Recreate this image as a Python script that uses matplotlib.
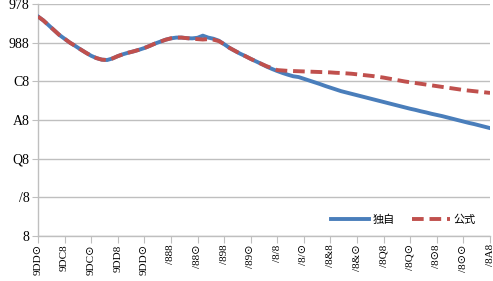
import matplotlib
matplotlib.use("Agg")
import matplotlib.pyplot as plt

# years 1975..2060
years = list(range(1975, 2061))

# own estimate (独自)
own = [113.5, 111.5, 109.0, 106.5, 104.0, 102.0, 100.0, 98.3, 96.5, 94.8,
       93.2, 92.0, 91.2, 91.0, 91.8, 93.0, 94.0, 94.8, 95.5, 96.3,
       97.2, 98.3, 99.5, 100.5, 101.5, 102.2, 102.6, 102.6, 102.3, 102.2,
       102.5, 103.6, 102.6, 102.0, 101.0, 99.2, 97.3, 95.8, 94.3, 93.0,
       91.6, 90.3, 89.0, 87.6, 86.4, 85.3, 84.3, 83.4, 82.6, 82.2,
       81.3, 80.4, 79.5, 78.6, 77.6, 76.7, 75.8, 74.9, 74.2, 73.5,
       72.8, 72.1, 71.4, 70.7, 70.0, 69.3, 68.6, 67.9, 67.2, 66.5,
       65.8, 65.2, 64.5, 63.9, 63.2, 62.6, 62.0, 61.3, 60.6, 59.9,
       59.2, 58.5, 57.9, 57.2, 56.5, 55.8]

# official projection (公式)
official = [113.5, 111.5, 109.0, 106.5, 104.0, 102.0, 100.0, 98.3, 96.5, 94.8,
            93.2, 92.0, 91.2, 91.0, 91.8, 93.0, 94.0, 94.8, 95.5, 96.3,
            97.2, 98.3, 99.5, 100.5, 101.5, 102.2, 102.6, 102.6, 102.3, 102.0,
            101.8, 101.6, 101.8, 101.5, 100.8, 99.2, 97.3, 95.8, 94.3, 93.0,
            91.6, 90.3, 89.0, 87.8, 86.8, 85.8, 85.6, 85.4, 85.3, 85.2,
            85.1, 85.0, 84.9, 84.8, 84.7, 84.6, 84.4, 84.3, 84.1, 83.9,
            83.6, 83.3, 83.0, 82.7, 82.3, 81.9, 81.4, 80.9, 80.4, 79.9,
            79.5, 79.1, 78.7, 78.3, 77.9, 77.5, 77.1, 76.7, 76.3, 75.9,
            75.5, 75.2, 74.9, 74.6, 74.3, 74.0]

x_ticks = list(range(1975, 2061, 5))
x_labels = ["9DD⊙", "9DC8", "9DC⊙", "9DD8", "9DD⊙", "/888", "/88⊙", "/898",
            "/89⊙", "/8/8", "/8/⊙", "/8&8", "/8&⊙", "/8Q8", "/8Q⊙", "/8⊙8",
            "/8⊙⊙", "/8A8"]
y_ticks = [0, 20, 40, 60, 80, 100, 120]
y_labels = ["8", "/8", "Q8", "A8", "C8", "988", "978"]

blue = "#4A7EBB"
red = "#C0504D"
grid_col = "#BFBFBF"
serif = ["Liberation Serif", "DejaVu Sans"]

fig = plt.figure(figsize=(4.93, 2.81), dpi=100)
ax = fig.add_axes([0.077, 0.160, 0.917, 0.826])

ax.plot(years, own, color=blue, lw=2.8, label="独自", zorder=3)
ax.plot(years, official, color=red, lw=2.8, linestyle=(0, (3, 1.5)),
        dash_capstyle="butt", label="公式", zorder=4)

ax.set_xlim(1975, 2060)
ax.set_ylim(0, 120)
ax.set_yticks(y_ticks)
ax.set_yticklabels(y_labels, family=serif, fontsize=10)
ax.set_xticks(x_ticks)
ax.set_xticklabels(x_labels, rotation=90, family=serif, fontsize=8)

ax.grid(axis="y", color=grid_col, lw=1)
ax.set_axisbelow(True)
for s in ["top", "right"]:
    ax.spines[s].set_visible(False)
for s in ["left", "bottom"]:
    ax.spines[s].set_color(grid_col)
    ax.spines[s].set_linewidth(1)
ax.tick_params(axis="both", colors=grid_col, labelcolor="black")
ax.tick_params(axis="y", length=4, pad=2)
ax.tick_params(axis="x", length=5, pad=1)

leg = ax.legend(loc="lower right", bbox_to_anchor=(0.99, 0.005), ncol=2, frameon=False,
                prop={"family": ["Noto Sans CJK JP", "DejaVu Sans"], "size": 8},
                handlelength=3.4, columnspacing=1.6, handletextpad=0.3)

fig.savefig("out.png", dpi=100)
